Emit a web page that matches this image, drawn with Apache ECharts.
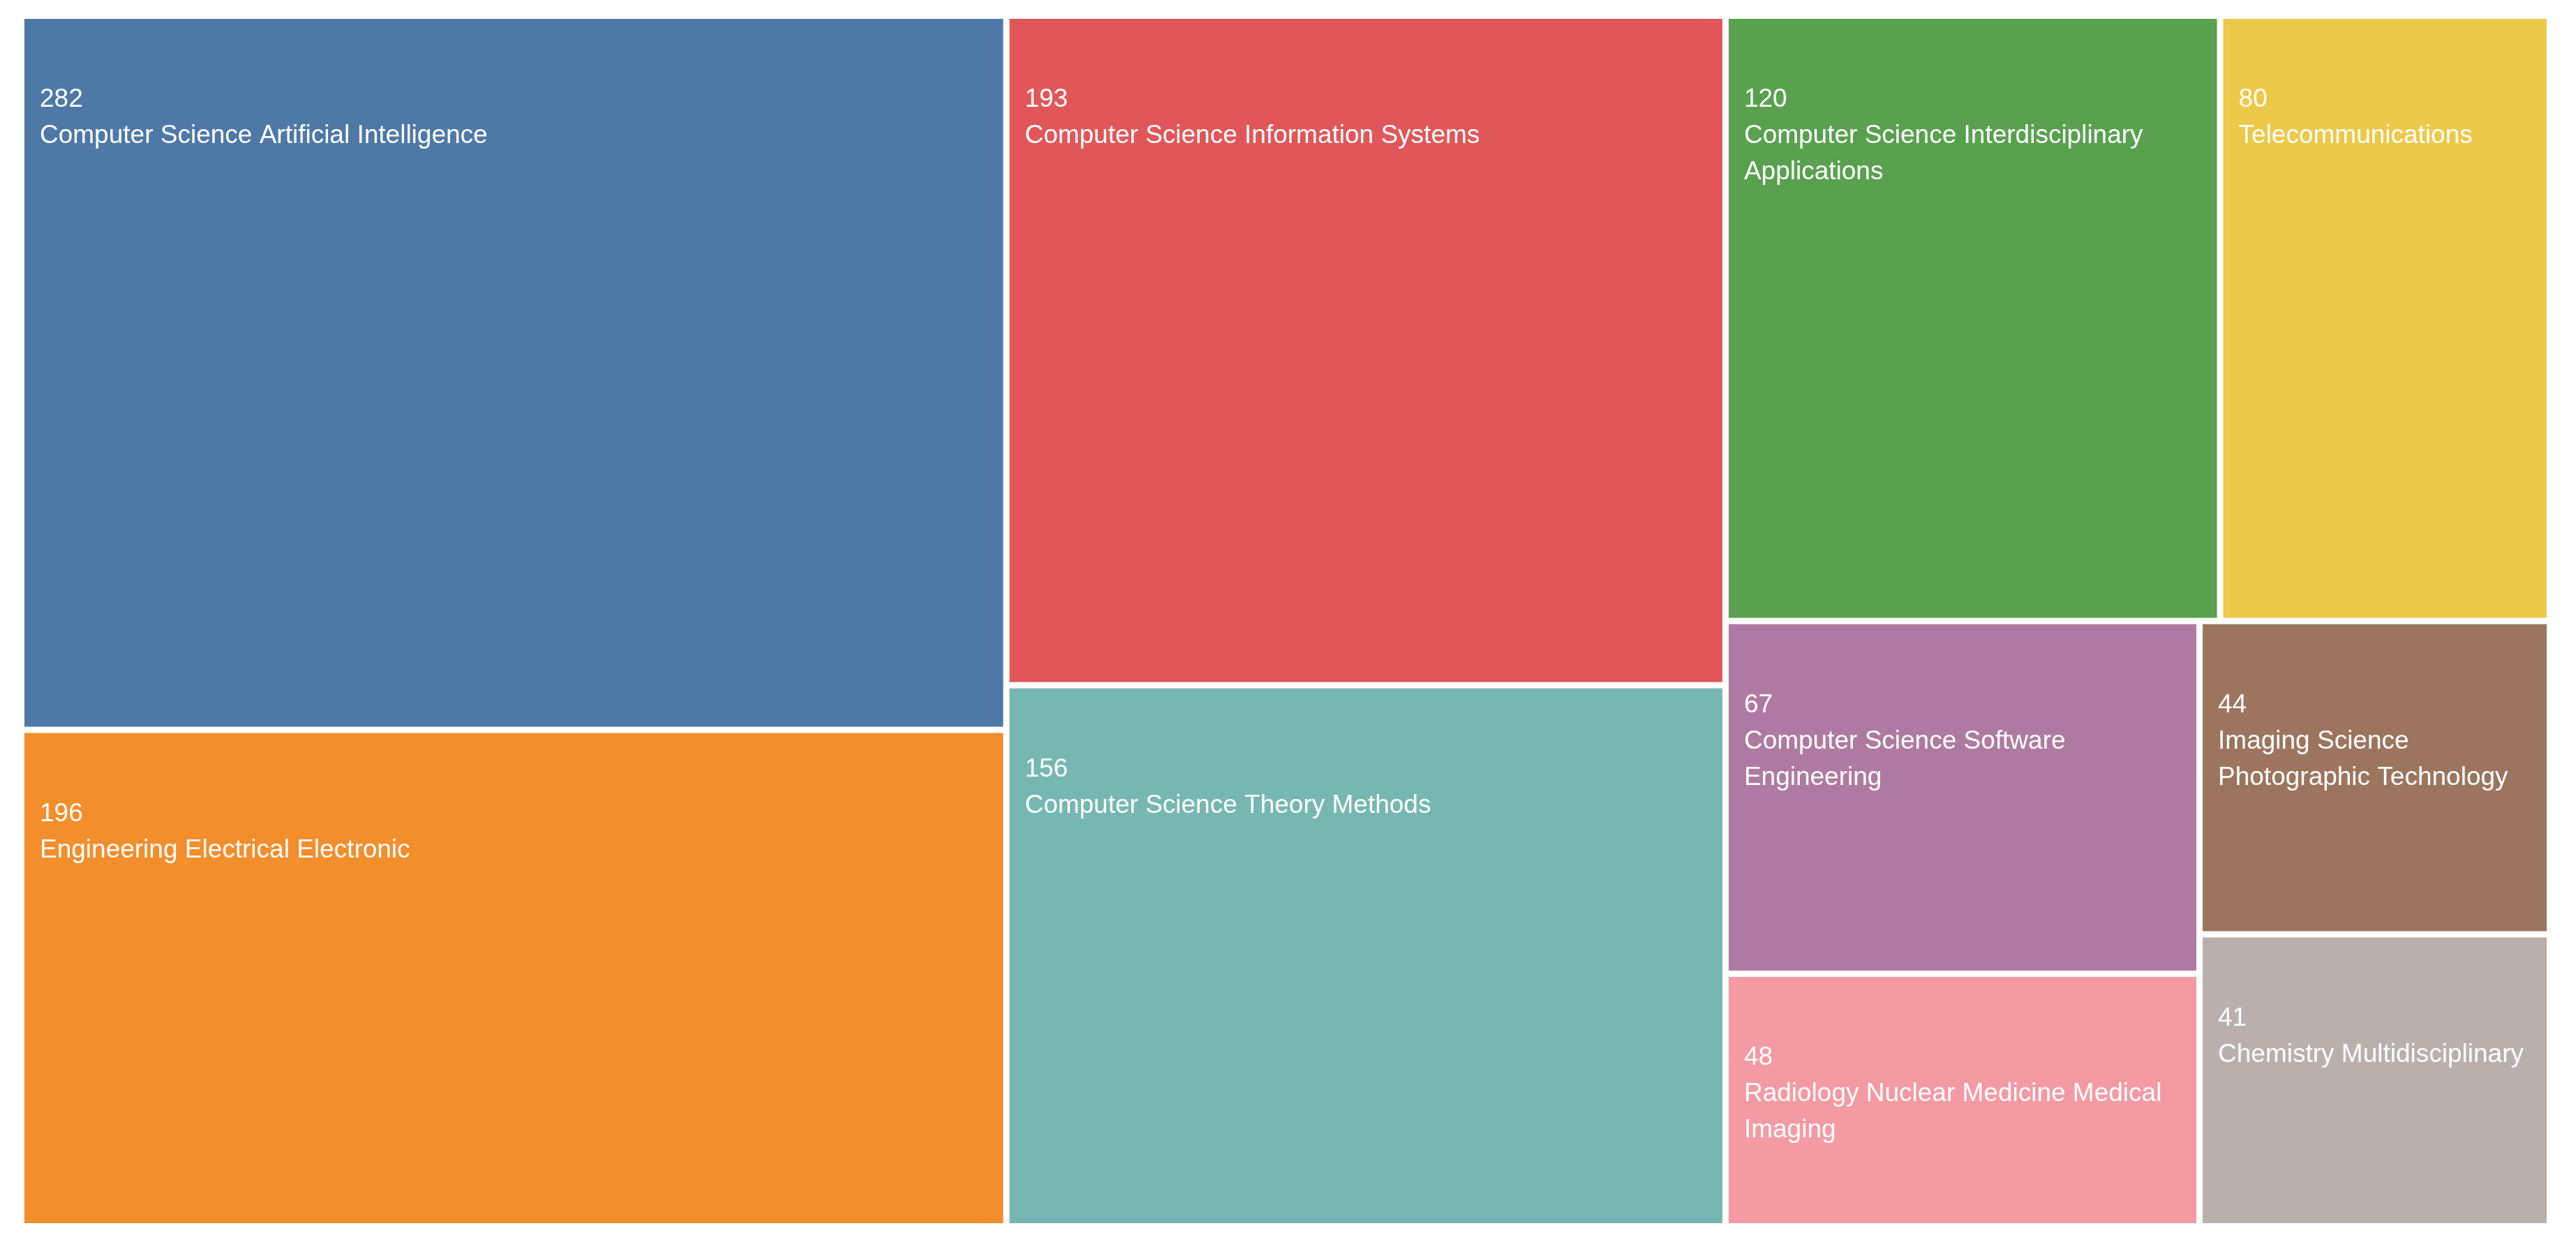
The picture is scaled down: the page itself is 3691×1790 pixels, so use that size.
<!DOCTYPE html>
<html><head><meta charset="utf-8">
<script src="https://cdn.jsdelivr.net/npm/echarts@6/dist/echarts.min.js"></script>
<style>html,body{margin:0;background:#fff}#main{width:3691px;height:1790px}</style>
</head><body><div id="main"></div>
<script>
var names = ['Computer Science Artificial Intelligence', 'Engineering Electrical Electronic',
    'Computer Science Information Systems', 'Computer Science Theory Methods',
    'Computer Science Interdisciplinary Applications', 'Telecommunications',
    'Computer Science Software Engineering', 'Radiology Nuclear Medicine Medical Imaging',
    'Imaging Science Photographic Technology', 'Chemistry Multidisciplinary'];
var values = [282, 196, 193, 156, 120, 80, 67, 48, 44, 41];
var colors = ['#4e79a7', '#f28e2c', '#e15759', '#76b7b2', '#59a14f', '#edc949',
    '#af7aa1', '#f49aa3', '#9c755f', '#bab0ab'];

var chart = echarts.init(document.getElementById('main'));
chart.setOption({
    series: [{
        type: 'treemap',
        left: 35, top: 27, right: 42, bottom: 37,
        roam: false,
        nodeClick: false,
        breadcrumb: {show: false},
        squareRatio: 0.5 * (1 + Math.sqrt(5)),
        itemStyle: {borderWidth: 0, gapWidth: 9, borderColor: '#fff'},
        label: {
            show: true,
            position: 'insideTopLeft',
            padding: [90, 10, 10, 22],
            color: '#fff',
            fontFamily: 'Liberation Sans',
            fontSize: 37,
            lineHeight: 52,
            overflow: 'break',
            formatter: function (p) { return p.value + '\n' + p.name; }
        },
        data: names.map(function (n, i) {
            return {name: n, value: values[i], itemStyle: {color: colors[i]}};
        })
    }]
});
</script></body></html>
